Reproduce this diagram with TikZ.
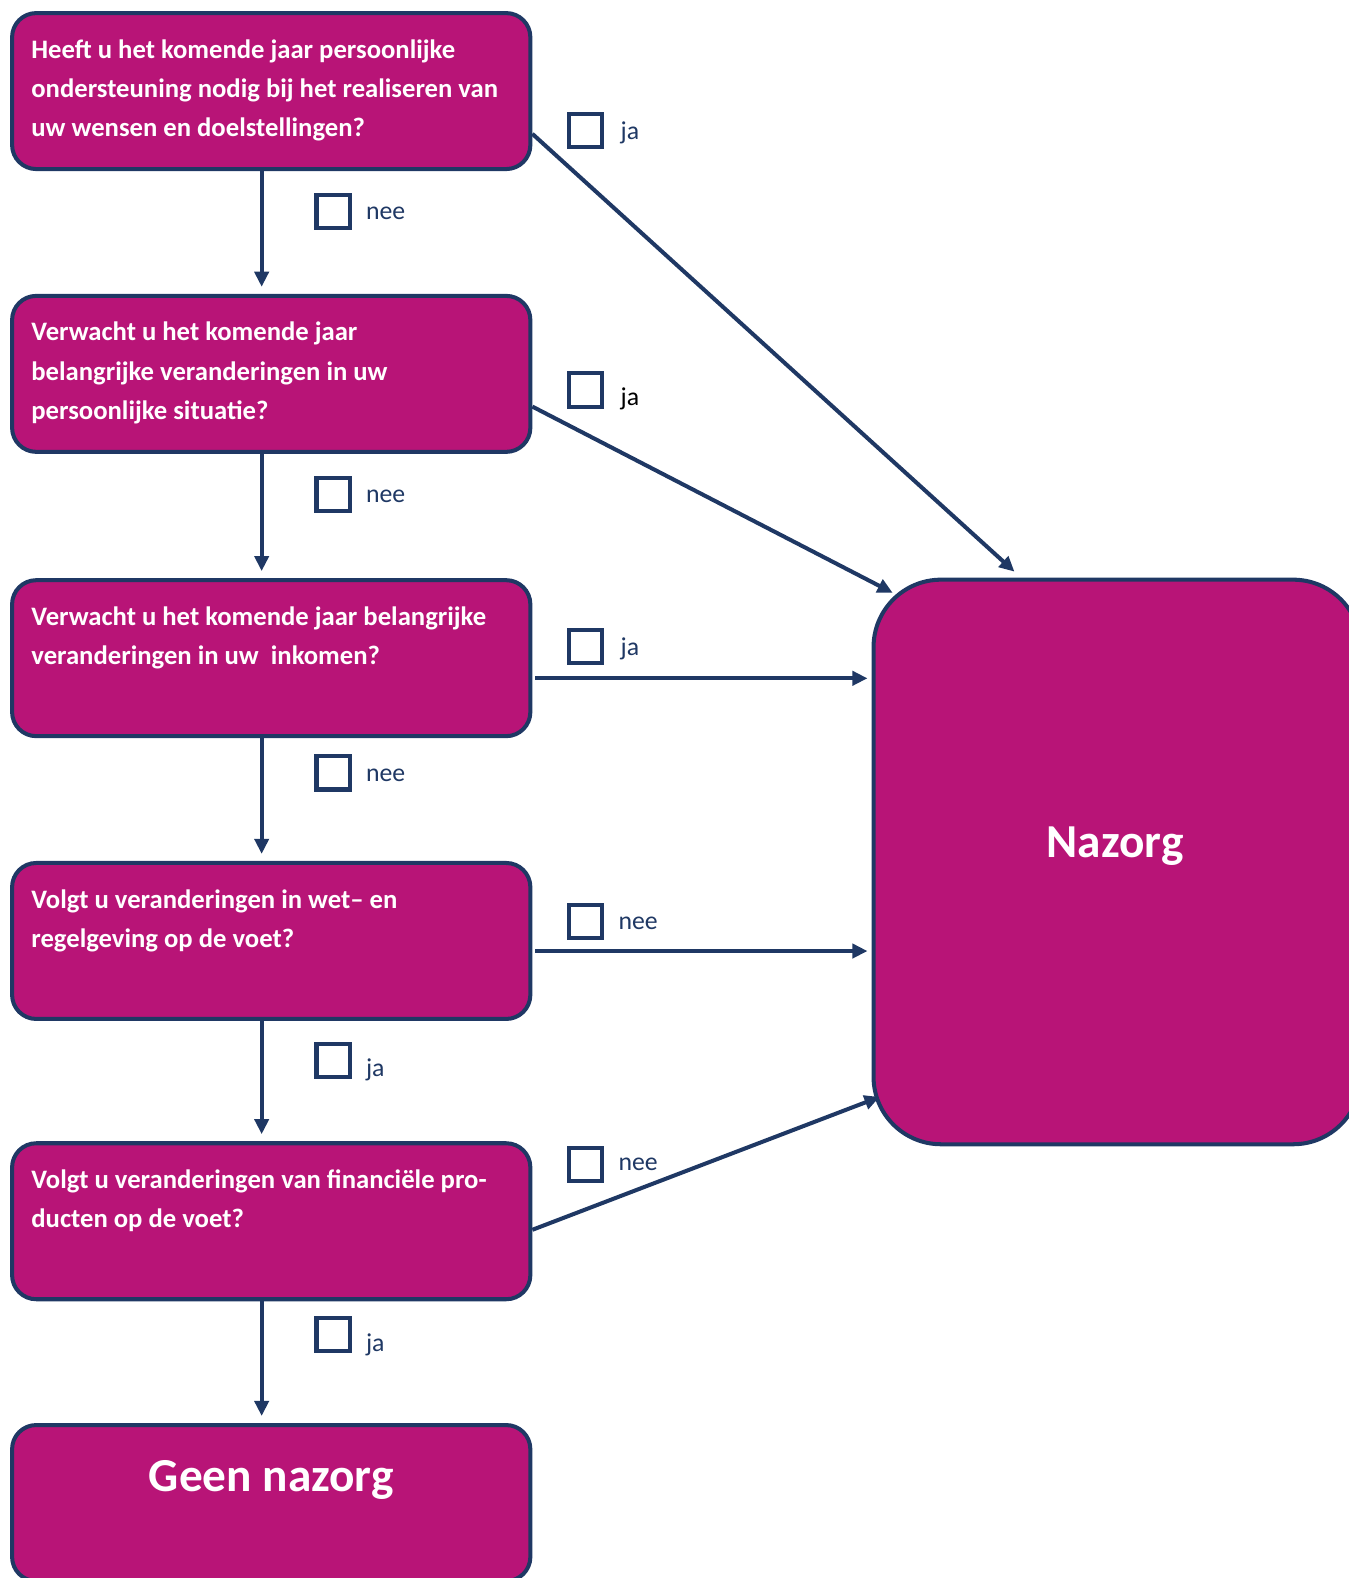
\documentclass[tikz,border=0pt]{standalone}
\usepackage{fontspec}
\setmainfont{Carlito}
\usepackage{tikz}
\usetikzlibrary{calc, positioning, arrows.meta}
\usepackage{xcolor}
\definecolor{boxFill}{RGB}{184, 20, 119}
\definecolor{navy}{RGB}{31, 56, 100}

\begin{document}
\begin{tikzpicture}[x=1pt, y=-1pt, >={Triangle[length=15pt, width=14pt]},
  qbox/.style={draw=navy, line width=4pt, fill=boxFill, rounded corners=24pt,
    minimum width=515pt, minimum height=155pt, inner sep=0pt},
  qtext/.style={anchor=north west, text=white, align=left, inner sep=0pt,
    font=\bfseries\fontsize{26.5}{39}\selectfont},
  endtext/.style={text=white, inner sep=0pt, font=\bfseries\fontsize{47}{50}\selectfont},
  chk/.style={draw=navy, line width=4pt, fill=white, minimum size=33pt, inner sep=0pt},
  lbl/.style={text=navy, inner sep=0pt, text height=0.7em, text depth=0.2em,
    font=\fontsize{25.6}{30}\selectfont},
  arr/.style={->, draw=navy, fill=navy, line width=4pt}]
  \useasboundingbox (0,0) rectangle (1340,1568);

  % Question boxes
  \node[qbox] (q1) at (269.5, 90.5) {};
  \node[qbox] (q2) at (269.5, 371.5) {};
  \node[qbox] (q3) at (269.5, 654) {};
  \node[qbox] (q4) at (269.5, 935) {};
  \node[qbox] (q5) at (269.5, 1213.5) {};
  \node[qbox] (geen) at (269.5, 1493.5) {};
  \node[qbox, rounded corners=67pt, minimum width=484pt, minimum height=561pt]
    (nz) at (1110, 856.5) {};

  % Texts
  \node[qtext] (q1t) at ($(q1.north west)+(21,28)$)
    {Heeft u het komende jaar persoonlijke\\ondersteuning nodig bij het realiseren van\\uw wensen en doelstellingen?};
  \node[qtext] (q2t) at ($(q2.north west)+(21,28)$)
    {Verwacht u het komende jaar\\belangrijke veranderingen in uw\\persoonlijke situatie?};
  \node[qtext] (q3t) at ($(q3.north west)+(21,28)$)
    {Verwacht u het komende jaar belangrijke\\veranderingen in uw\ \ inkomen?};
  \node[qtext] (q4t) at ($(q4.north west)+(21,28)$)
    {Volgt u veranderingen in wet-- en\\regelgeving op de voet?};
  \node[qtext] (q5t) at ($(q5.north west)+(21,28)$)
    {Volgt u veranderingen van financiële pro-\\ducten op de voet?};
  \node[endtext] (geent) at ($(geen.north)+(0,57)$) {Geen nazorg};
  \node[endtext] (nzt) at ($(nz.center)+(-2,-16)$) {Nazorg};

  % Downward arrows
  \draw[arr] ($(q1.south)+(-9.5,0)$) -- ($(q2.north)+(-9.5,-7)$);
  \draw[arr] ($(q2.south)+(-9.5,0)$) -- ($(q3.north)+(-9.5,-7)$);
  \draw[arr] ($(q3.south)+(-9.5,0)$) -- ($(q4.north)+(-9.5,-7)$);
  \draw[arr] ($(q4.south)+(-9.5,0)$) -- ($(q5.north)+(-9.5,-7)$);
  \draw[arr] ($(q5.south)+(-9.5,0)$) -- ($(geen.north)+(-9.5,-7)$);

  % Arrows to Nazorg
  \draw[arr] ($(q1.east)+(0,42.5)$) -- ($(nz.north west)+(142,-6)$);
  \draw[arr] ($(q2.east)+(0,32.5)$) -- ($(nz.north west)+(21,15)$);
  \draw[arr] ($(q3.east)+(3,20)$) -- ($(nz.north west)+(-4,100)$);
  \draw[arr] ($(q4.east)+(3,10)$) -- ($(nz.north west)+(-4,371)$);
  \draw[arr] ($(q5.east)+(0,8.5)$) -- ($(nz.south west)+(8,-49)$);

  % Check boxes
  \node[chk] (c1ja) at (582, 130) {};
  \node[lbl, right=16pt of c1ja, yshift=-6pt] {ja};
  \node[chk] (c1nee) at (331, 210) {};
  \node[lbl, right=14pt of c1nee, yshift=-6pt] {nee};

  \node[chk] (c2ja) at (582, 387.5) {};
  \node[lbl, text=black, right=16pt of c2ja, yshift=-13pt] {ja};
  \node[chk] (c2nee) at (331, 491) {};
  \node[lbl, right=14pt of c2nee, yshift=-6pt] {nee};

  \node[chk] (c3ja) at (582, 642.5) {};
  \node[lbl, right=16pt of c3ja, yshift=-6pt] {ja};
  \node[chk] (c3nee) at (331, 768) {};
  \node[lbl, right=14pt of c3nee, yshift=-6pt] {nee};

  \node[chk] (c4nee) at (582, 915.5) {};
  \node[lbl, right=14pt of c4nee, yshift=-6pt] {nee};
  \node[chk] (c4ja) at (331, 1053.5) {};
  \node[lbl, right=14pt of c4ja, yshift=-14pt] {ja};

  \node[chk] (c5nee) at (582, 1157) {};
  \node[lbl, right=14pt of c5nee, yshift=-4pt] {nee};
  \node[chk] (c5ja) at (331, 1326) {};
  \node[lbl, right=14pt of c5ja, yshift=-14pt] {ja};
\end{tikzpicture}
\end{document}
